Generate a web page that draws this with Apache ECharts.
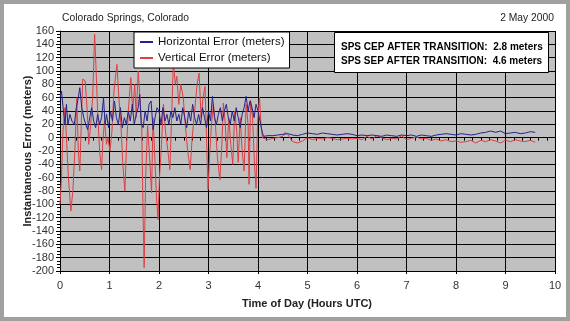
<!DOCTYPE html>
<html>
<head>
<meta charset="utf-8">
<script src="https://cdn.jsdelivr.net/npm/echarts@6/dist/echarts.min.js"></script>
<style>
html,body{margin:0;padding:0;background:#fff;}
#chart{width:570px;height:321px;}
</style>
</head>
<body>
<div id="chart"></div>
<script>
// X ticks (hours UTC) and Y ticks (meters)
const xTicks = [0,1,2,3,4,5,6,7,8,9,10];
const yTicks = [-200,-180,-160,-140,-120,-100,-80,-60,-40,-20,0,20,40,60,80,100,120,140,160];

// Vertical error (red)
const redT = [0.00,0.03,0.06,0.10,0.13,0.17,0.22,0.26,0.30,0.34,0.37,0.40,0.43,0.46,0.51,0.55,0.58,0.62,0.66,0.70,
  0.73,0.76,0.80,0.84,0.87,0.90,0.94,0.97,1.01,1.05,1.09,1.15,1.19,1.23,1.27,1.31,1.34,1.38,1.43,1.47,
  1.51,1.54,1.58,1.62,1.65,1.68,1.70,1.73,1.77,1.81,1.85,1.88,1.91,1.95,1.98,2.01,2.05,2.09,2.13,2.18,
  2.22,2.25,2.29,2.33,2.36,2.40,2.44,2.49,2.53,2.58,2.63,2.67,2.72,2.77,2.81,2.85,2.89,2.93,2.96,2.99,
  3.02,3.06,3.10,3.14,3.18,3.23,3.27,3.30,3.34,3.37,3.41,3.45,3.49,3.53,3.57,3.60,3.64,3.68,3.72,3.76,
  3.80,3.82,3.85,3.89,3.93,3.96,3.99,4.03,4.06,4.09,
  4.15,4.20,4.30,4.40,4.50,4.55,4.60,4.70,4.80,4.90,5.00,5.10,5.20,5.30,5.40,5.50,5.60,5.70,5.80,5.90,
  6.00,6.10,6.20,6.30,6.40,6.50,6.60,6.70,6.80,6.90,7.00,7.10,7.20,7.30,7.40,7.50,7.60,7.70,7.80,7.90,
  8.00,8.10,8.20,8.30,8.40,8.50,8.60,8.70,8.80,8.90,9.00,9.10,9.20,9.30,9.40,9.50,9.60];
const redV = [-100,-60,10,45,0,-60,-110,-80,-20,60,-20,-50,20,88,85,40,-10,20,60,155,
  100,40,-20,-48,0,25,-10,0,-20,10,70,110,60,20,-40,-80,-20,40,90,40,
  80,30,100,97,20,-120,-195,-60,20,-30,-83,30,-20,-90,-123,-60,-10,50,10,-20,
  -48,20,112,80,92,50,80,60,20,-20,-48,0,40,80,97,30,60,77,0,-78,
  -30,20,50,20,-30,-63,-10,52,20,-30,30,-10,-40,40,10,-37,30,-20,-50,50,
  20,-70,56,30,-40,-76,20,61,20,0,
  -2,-3,-1,0,2,8,5,-6,-8,-5,0,-3,-1,-2,0,-1,-3,-2,-1,-2,
  -1,-3,2,-2,3,0,-3,-1,-2,3,-3,-1,1,-2,-1,-4,-2,-5,-3,-6,
  -5,-7,-6,-4,-8,-4,-6,-3,-5,-8,-4,-6,-3,-5,-6,-4,-7];

// Horizontal error (blue)
const blueT = [0.00,0.03,0.07,0.10,0.13,0.16,0.20,0.24,0.29,0.33,0.37,0.40,0.44,0.48,0.52,0.56,0.60,0.64,0.68,0.72,
  0.76,0.80,0.84,0.88,0.91,0.94,0.98,1.02,1.06,1.10,1.14,1.18,1.22,1.26,1.30,1.34,1.38,1.42,1.46,1.50,
  1.54,1.58,1.61,1.64,1.68,1.72,1.76,1.80,1.84,1.88,1.92,1.96,2.00,2.04,2.08,2.12,2.16,2.20,2.24,2.28,
  2.32,2.36,2.40,2.44,2.48,2.52,2.56,2.60,2.64,2.68,2.72,2.76,2.80,2.84,2.88,2.92,2.96,3.00,3.04,3.08,
  3.12,3.16,3.20,3.24,3.28,3.32,3.36,3.40,3.44,3.48,3.52,3.56,3.60,3.64,3.68,3.72,3.76,3.80,3.84,3.88,
  3.92,3.96,4.00,4.04,4.08,4.11,
  4.20,4.30,4.40,4.50,4.60,4.70,4.80,4.90,5.00,5.10,5.20,5.30,5.40,5.50,5.60,5.70,5.80,5.90,
  6.00,6.10,6.20,6.30,6.40,6.50,6.60,6.70,6.80,6.90,7.00,7.10,7.20,7.30,7.40,7.50,7.60,7.70,7.80,7.90,
  8.00,8.10,8.20,8.30,8.40,8.50,8.60,8.70,8.80,8.90,9.00,9.10,9.20,9.30,9.40,9.50,9.60];
const blueV = [60,70,40,20,50,20,35,25,20,45,60,75,45,30,20,12,30,45,25,15,
  35,20,30,60,20,35,15,40,25,55,30,20,45,15,30,20,40,25,50,20,
  35,45,65,20,15,40,25,50,55,12,30,45,40,20,45,25,35,20,40,30,
  45,25,35,20,45,30,15,40,25,50,30,20,35,20,45,30,15,40,25,62,
  30,20,35,45,25,40,50,30,20,40,25,45,30,15,35,45,62,40,55,45,
  30,50,40,25,10,2,
  3,3,4,5,6,4,3,5,7,6,5,7,6,5,4,5,6,5,
  3,4,3,4,3,2,4,3,2,4,3,4,2,4,3,2,4,5,6,5,
  4,6,5,4,5,7,8,10,8,10,6,7,8,6,7,9,8];

const pairs = (t, v) => t.map((x, i) => [x, v[i]]);
const FONT = 'Liberation Sans, Arial, sans-serif';

const chart = echarts.init(document.getElementById('chart'), null, {renderer: 'canvas'});
chart.setOption({
  animation: false,
  backgroundColor: '#ffffff',
  textStyle: {fontFamily: FONT},
  grid: {left: 60, right: 15, top: 31, bottom: 50, show: true, backgroundColor: '#c0c0c0', borderWidth: 0},
  legend: {
    data: ['Horizontal Error (meters)', 'Vertical Error (meters)'],
    orient: 'vertical', left: 134, top: 32,
    backgroundColor: '#ffffff', borderColor: '#000', borderWidth: 1,
    padding: [4, 5, 4, 6], itemGap: 4, itemWidth: 13, itemHeight: 2, icon: 'rect',
    textStyle: {fontSize: 11.5, color: '#111', fontFamily: FONT}
  },
  xAxis: [{
    type: 'value', min: xTicks[0], max: xTicks[xTicks.length - 1], interval: 1, position: 'bottom',
    axisLine: {show: true, onZero: false, lineStyle: {color: '#000', width: 1}},
    axisTick: {show: true, length: 3, lineStyle: {color: '#000'}},
    axisLabel: {color: '#333', fontSize: 11, margin: 9, fontFamily: FONT},
    splitLine: {show: true, lineStyle: {color: '#000', width: 1}}
  }, {
    type: 'value', min: xTicks[0], max: xTicks[xTicks.length - 1], interval: 1, position: 'top',
    axisLine: {show: true, onZero: true, onZeroAxisIndex: 0, lineStyle: {color: '#000', width: 1}},
    axisTick: {show: true, length: 3, inside: true, lineStyle: {color: '#000'}},
    minorTick: {show: true, splitNumber: 6, length: 3, lineStyle: {color: '#000'}},
    axisLabel: {show: false},
    splitLine: {show: false}
  }],
  yAxis: {
    type: 'value', min: yTicks[0], max: yTicks[yTicks.length - 1], interval: 20,
    axisLine: {show: true, onZero: false, lineStyle: {color: '#000', width: 1}},
    axisTick: {show: true, length: 4, lineStyle: {color: '#000'}},
    minorTick: {show: true, splitNumber: 4, length: 3, lineStyle: {color: '#000'}},
    axisLabel: {color: '#333', fontSize: 11, margin: 6, fontFamily: FONT},
    splitLine: {show: true, lineStyle: {color: '#000', width: 1}}
  },
  series: [{
    name: 'Horizontal Error (meters)', type: 'line', xAxisIndex: 0, data: pairs(blueT, blueV),
    showSymbol: false, symbol: 'none', lineStyle: {color: '#23238c', width: 1}, itemStyle: {color: '#23238c'}, z: 3
  }, {
    name: 'Vertical Error (meters)', type: 'line', xAxisIndex: 0, data: pairs(redT, redV),
    showSymbol: false, symbol: 'none', lineStyle: {color: '#dc4044', width: 1}, itemStyle: {color: '#dc4044'}, z: 2
  }],
  graphic: [
    {type: 'rect', shape: {x: 2, y: 2, width: 566, height: 317}, style: {fill: 'none', stroke: '#a0a0a0', lineWidth: 4}, z: 100},
    {type: 'text', left: 62, top: 13, style: {text: 'Colorado Springs, Colorado', fontSize: 10.3, fill: '#222', fontFamily: FONT}},
    {type: 'text', right: 16, top: 13, style: {text: '2 May 2000', fontSize: 10.3, fill: '#222', fontFamily: FONT}},
    {type: 'text', x: 28, y: 151, rotation: Math.PI / 2,
      style: {text: 'Instantaneous Error (meters)', fontSize: 11, fontWeight: 'bold', fill: '#222', fontFamily: FONT, align: 'center', verticalAlign: 'middle'}},
    {type: 'text', x: 307, y: 304,
      style: {text: 'Time of Day (Hours UTC)', fontSize: 11, fontWeight: 'bold', fill: '#222', fontFamily: FONT, align: 'center', verticalAlign: 'middle'}},
    {type: 'rect', shape: {x: 334.5, y: 32.5, width: 214, height: 40}, style: {fill: '#fff', stroke: '#000', lineWidth: 1}, z: 50},
    {type: 'text', x: 341, y: 47, style: {text: 'SPS CEP AFTER TRANSITION:  2.8 meters', fontSize: 10, fontWeight: 'bold', fill: '#000', fontFamily: FONT, verticalAlign: 'middle'}, z: 51},
    {type: 'text', x: 341, y: 61, style: {text: 'SPS SEP AFTER TRANSITION:  4.6 meters', fontSize: 10, fontWeight: 'bold', fill: '#000', fontFamily: FONT, verticalAlign: 'middle'}, z: 51}
  ]
});
</script>
</body>
</html>
